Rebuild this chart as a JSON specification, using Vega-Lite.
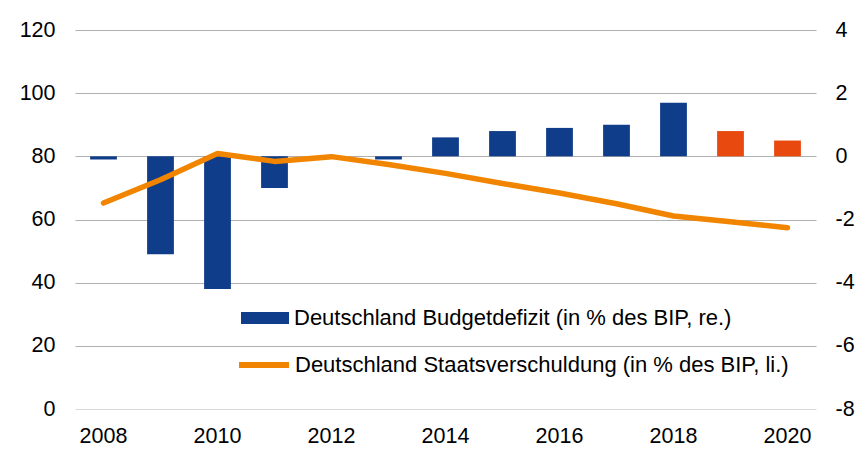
{
  "$schema": "https://vega.github.io/schema/vega-lite/v6.json",
  "width": 741,
  "height": 379,
  "autosize": {"type": "none"},
  "padding": {"left": 75, "top": 30, "right": 41, "bottom": 46},
  "background": "#ffffff",
  "config": {
    "font": "Liberation Sans",
    "view": {"stroke": null},
    "axis": {"labelFont": "Liberation Sans", "labelFontSize": 21.5, "labelColor": "#000000", "ticks": false, "tickSize": 0, "domain": false, "title": null},
    "legend": {"labelFont": "Liberation Sans", "labelFontSize": 22, "labelColor": "#000000", "title": null, "labelLimit": 700}
  },
  "data": {
    "values": [
      {"year": 2008, "defizit": -0.1, "schulden": 65.2},
      {"year": 2009, "defizit": -3.1, "schulden": 72.6},
      {"year": 2010, "defizit": -4.2, "schulden": 80.9},
      {"year": 2011, "defizit": -1.0, "schulden": 78.4},
      {"year": 2012, "defizit": 0.0, "schulden": 79.9},
      {"year": 2013, "defizit": -0.1, "schulden": 77.4},
      {"year": 2014, "defizit": 0.6, "schulden": 74.6},
      {"year": 2015, "defizit": 0.8, "schulden": 71.4},
      {"year": 2016, "defizit": 0.9, "schulden": 68.4},
      {"year": 2017, "defizit": 1.0, "schulden": 65.0},
      {"year": 2018, "defizit": 1.7, "schulden": 61.1},
      {"year": 2019, "defizit": 0.8, "schulden": 59.3},
      {"year": 2020, "defizit": 0.5, "schulden": 57.4}
    ]
  },
  "layer": [
    {
      "mark": {"type": "bar"},
      "encoding": {
        "x": {
          "field": "year", "type": "ordinal",
          "scale": {"paddingInner": 0.53, "paddingOuter": 0.265},
          "axis": {"values": [2008, 2010, 2012, 2014, 2016, 2018, 2020], "labelAngle": 0, "labelPadding": 16, "grid": false}
        },
        "y": {
          "field": "defizit", "type": "quantitative",
          "scale": {"domain": [-8, 4], "nice": false, "zero": false},
          "axis": {"orient": "right", "values": [-8, -6, -4, -2, 0, 2, 4], "grid": false, "labelPadding": 19, "labelAlign": "left", "labelExpr": "'' + datum.value"}
        },
        "fill": {
          "condition": {"test": "datum.year >= 2019", "value": "#E8490F"},
          "datum": "Deutschland Budgetdefizit (in % des BIP, re.)",
          "type": "nominal",
          "scale": {"range": ["#0F3D8A"]},
          "legend": {
            "orient": "none", "legendX": 166, "legendY": 264,
            "symbolType": "M-1,-0.25H1V0.25H-1Z", "symbolSize": 2304,
            "symbolStrokeWidth": 0, "labelOffset": 5, "padding": 0
          }
        }
      }
    },
    {
      "mark": {"type": "line", "strokeWidth": 5.5, "strokeCap": "round", "strokeJoin": "round"},
      "encoding": {
        "x": {"field": "year", "type": "ordinal"},
        "y": {
          "field": "schulden", "type": "quantitative",
          "scale": {"domain": [0, 120], "nice": false},
          "axis": {"orient": "left", "values": [0, 20, 40, 60, 80, 100, 120], "grid": true, "gridColor": {"condition": {"test": "datum.value === 0", "value": "#d9d9d9"}, "value": "#b0b0b0"}, "gridWidth": 1, "labelPadding": 20}
        },
        "stroke": {
          "datum": "Deutschland Staatsverschuldung (in % des BIP, li.)",
          "type": "nominal",
          "scale": {"range": ["#F28500"]},
          "legend": {
            "orient": "none", "legendX": 161, "legendY": 307,
            "symbolType": "stroke", "symbolSize": 2500,
            "symbolStrokeWidth": 6, "labelOffset": 3, "padding": 0
          }
        }
      }
    }
  ],
  "resolve": {"scale": {"y": "independent"}}
}
